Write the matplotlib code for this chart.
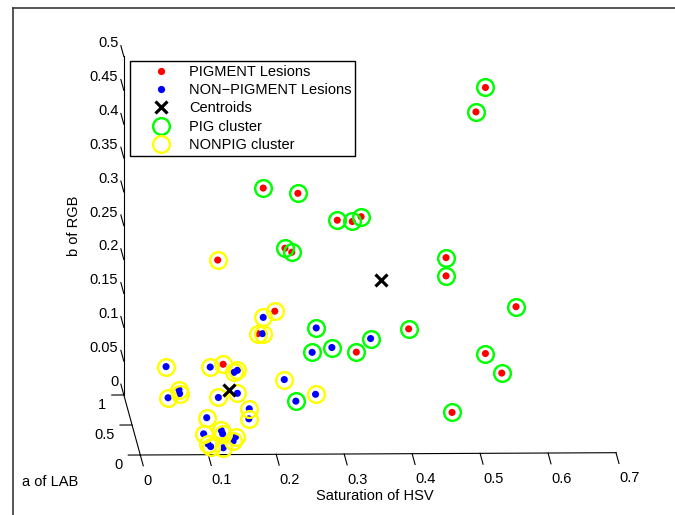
import numpy as np
import matplotlib
matplotlib.use('Agg')
import matplotlib.pyplot as plt
from matplotlib.lines import Line2D
from matplotlib import transforms as mtransforms
from mpl_toolkits.mplot3d import proj3d

plt.rcParams['font.family'] = ['Liberation Sans', 'DejaVu Sans']
FS = 10.5

# ---------------- data (Saturation of HSV, a of LAB, b of RGB) ----------------
pig_sat = [0.193, 0.244, 0.302, 0.324, 0.337, 0.225, 0.235, 0.126, 0.210, 0.185, 0.330,
           0.407, 0.520, 0.506, 0.462, 0.462, 0.565, 0.520, 0.544, 0.466, 0.134]
pig_a = [0.5, 0.5, 0.5, 0.5, 0.5, 0.5, 0.5, 0.5, 0.5, 0.5, 0.5,
         0.5, 0.5, 0.5, 0.5, 0.5, 0.5, 0.5, 0.5, 0.3, 0.5]
pig_b = [0.349, 0.341, 0.301, 0.299, 0.306, 0.260, 0.254, 0.243, 0.167, 0.134, 0.106,
         0.140, 0.496, 0.460, 0.245, 0.218, 0.172, 0.103, 0.074, 0.034, 0.089]
pig_cluster = ['PIG', 'PIG', 'PIG', 'PIG', 'PIG', 'PIG', 'PIG', 'NONPIG', 'NONPIG', 'NONPIG', 'PIG',
               'PIG', 'PIG', 'PIG', 'PIG', 'PIG', 'PIG', 'PIG', 'PIG', 'PIG', 'NONPIG']

non_sat = [0.193, 0.192, 0.271, 0.265, 0.294, 0.351, 0.224, 0.241, 0.270, 0.050, 0.115,
           0.150, 0.155, 0.053, 0.069, 0.070, 0.127, 0.155, 0.170, 0.167, 0.105, 0.098,
           0.124, 0.126, 0.144, 0.139, 0.102, 0.106, 0.124]
non_a = [0.5, 0.5, 0.5, 0.5, 0.5, 0.5, 0.5, 0.5, 0.5, 0.5, 0.5,
         0.5, 0.5, 0.5, 0.5, 0.5, 0.5, 0.5, 0.4, 0.3, 0.3, 0.2,
         0.2, 0.2, 0.15, 0.1, 0.1, 0.1, 0.08]
non_b = [0.158, 0.134, 0.142, 0.106, 0.113, 0.126, 0.066, 0.034, 0.044, 0.086, 0.085,
         0.077, 0.080, 0.040, 0.052, 0.046, 0.040, 0.046, 0.032, 0.026, 0.028, 0.013,
         0.018, 0.013, 0.013, 0.011, 0.007, 0.003, 0.003]
non_cluster = ['NONPIG', 'NONPIG', 'PIG', 'PIG', 'PIG', 'PIG', 'NONPIG', 'PIG', 'NONPIG', 'NONPIG', 'NONPIG',
               'NONPIG', 'NONPIG', 'NONPIG', 'NONPIG', 'NONPIG', 'NONPIG', 'NONPIG', 'NONPIG', 'NONPIG', 'NONPIG', 'NONPIG',
               'NONPIG', 'NONPIG', 'NONPIG', 'NONPIG', 'NONPIG', 'NONPIG', 'NONPIG']

cent_sat = [0.367, 0.142]
cent_a = [0.5, 0.5]
cent_b = [0.212, 0.051]

x_ticks = [0, 0.1, 0.2, 0.3, 0.4, 0.5, 0.6, 0.7]
x_ticklabels = ['0', '0.1', '0.2', '0.3', '0.4', '0.5', '0.6', '0.7']
a_ticks = [0, 0.5, 1]
a_ticklabels = ['0', '0.5', '1']
z_ticks = [0, 0.05, 0.1, 0.15, 0.2, 0.25, 0.3, 0.35, 0.4, 0.45, 0.5]
z_ticklabels = ['0', '0.05', '0.1', '0.15', '0.2', '0.25', '0.3', '0.35', '0.4', '0.45', '0.5']

legend_labels = ['PIGMENT Lesions', 'NON\u2212PIGMENT Lesions', 'Centroids', 'PIG cluster', 'NONPIG cluster']

RED, BLUE, GREEN, YELLOW = (1, 0, 0), (0, 0, 1), (0, 1, 0), (1, 1, 0)

# ---------------- figure ----------------
W, H = 675, 515
fig = plt.figure(figsize=(W / 100, H / 100), dpi=100)

def fpx(x, y):
    return (x / W, 1 - y / H)

ax = fig.add_axes([0.1, 0.1, 0.8, 0.8 * W / H], projection='3d', proj_type='ortho')
ax.computed_zorder = False
ax.set_xlim(0, 0.7)
ax.set_ylim(0, 1)
ax.set_zlim(0, 0.5)
ax.set_box_aspect((476.0, 451.9, 341.5))
ax.view_init(elev=7.64, azim=-92.09)
ax.set_axis_off()
ax.patch.set_visible(False)

# points
ax.scatter(pig_sat, pig_a, pig_b, s=26, c=[RED], edgecolors='none', depthshade=False, zorder=2)
ax.scatter(non_sat, non_a, non_b, s=26, c=[BLUE], edgecolors='none', depthshade=False, zorder=2)

all_sat = np.array(pig_sat + non_sat)
all_a = np.array(pig_a + non_a)
all_b = np.array(pig_b + non_b)
all_cl = np.array(pig_cluster + non_cluster)
for name, col in [('PIG', GREEN), ('NONPIG', YELLOW)]:
    m = all_cl == name
    ax.plot(all_sat[m], all_a[m], all_b[m], ls='none', marker='o', ms=12,
            mfc='none', mec=col, mew=1.75, zorder=3)

ax.plot(cent_sat, cent_a, cent_b, ls='none', marker='x', ms=8, mec='black', mew=2.3, zorder=4)

# axis lines
alw = 0.8
ax.plot([0, 0.7], [0, 0], [0, 0], color='black', lw=alw, zorder=1)
ax.plot([0, 0], [0, 1], [0, 0], color='black', lw=alw, zorder=1)
ax.plot([0, 0], [1, 1], [0, 0.5], color='black', lw=alw, zorder=1)

# tick marks
tk = 0.18
atk = 0.0177
for xt in x_ticks:
    ax.plot([xt, xt], [0, -tk], [0, 0], color='black', lw=alw, zorder=1)
for at in a_ticks:
    ax.plot([0, -atk], [at, at], [0, 0], color='black', lw=alw, zorder=1)
for zt in z_ticks:
    ax.plot([0, 0], [1, 1 + tk], [zt, zt], color='black', lw=alw, zorder=1)

# ---------------- place axes so the cube lands where the reference has it ----------------
fig.canvas.draw()
def to_disp(x, y, z):
    xs, ys, _ = proj3d.proj_transform(np.array([x]), np.array([y]), np.array([z]), ax.get_proj())
    return ax.transData.transform((xs[0], ys[0]))

d0 = to_disp(0, 0, 0)
d1 = to_disp(0.7, 0, 0)
pos = ax.get_position()
L = pos.width * W
c = np.array([pos.x0 * W + L / 2, pos.y0 * H + pos.height * H / 2])
q0 = (d0 - c) / L
q1 = (d1 - c) / L
t0 = np.array([140.3, H - 455.0])
t1 = np.array([616.0, H - 452.7])
Ln = (t1[0] - t0[0]) / (q1[0] - q0[0])
cn = t0 - Ln * q0
ax.set_position([(cn[0] - Ln / 2) / W, (cn[1] - Ln / 2) / H, Ln / W, Ln / H])

# tick labels, anchored at the projected tick ends
def label_at(x, y, z, s, dx, dy, **kw):
    d = to_disp(x, y, z)
    fig.text((d[0] + dx) / W, (d[1] + dy) / H, s, fontsize=FS, **kw)

for xt, lab in zip(x_ticks, x_ticklabels):
    label_at(xt, -tk, 0, lab, 0.5, -8, ha='left', va='top')
for at, lab in zip(a_ticks, a_ticklabels):
    label_at(-atk, at, 0, lab, -5.5, -9.9, ha='right', va='center')
for zt, lab in zip(z_ticks, z_ticklabels):
    label_at(0, 1 + tk, zt, lab, -2.5, 2.3, ha='right', va='center')

# axis labels
fig.text(*fpx(74, 226), 'b of RGB', rotation=90, ha='center', va='center', fontsize=FS)
fig.text(*fpx(22, 482), 'a of LAB', ha='left', va='center', fontsize=FS)
fig.text(*fpx(375, 496.5), 'Saturation of HSV', ha='center', va='center', fontsize=FS)

# legend
handles = [
    Line2D([], [], ls='none', marker='o', ms=5.2, mfc=RED, mec='none'),
    Line2D([], [], ls='none', marker='o', ms=5.2, mfc=BLUE, mec='none'),
    Line2D([], [], ls='none', marker='x', ms=8, mec='black', mew=2.3),
    Line2D([], [], ls='none', marker='o', ms=12, mfc='none', mec=GREEN, mew=1.75),
    Line2D([], [], ls='none', marker='o', ms=12, mfc='none', mec=YELLOW, mew=1.75),
]
leg = fig.legend(handles, legend_labels, loc='upper left', bbox_to_anchor=fpx(130, 61),
                 bbox_transform=fig.transFigure, borderaxespad=0, frameon=True, fancybox=False,
                 shadow=False, framealpha=1, edgecolor='black', borderpad=0.25,
                 handlelength=3.8, handletextpad=0.0, labelspacing=0.3, fontsize=FS)
leg.get_frame().set_linewidth(1.0)

# outer frame (left and top edges of the window box)
fig.add_artist(Line2D([12.5 / W, 12.5 / W], [0, 1 - 7.5 / H], transform=fig.transFigure,
                      color='#3a3a3a', lw=1.2))
fig.add_artist(Line2D([12.5 / W, 1], [1 - 7.5 / H, 1 - 7.5 / H], transform=fig.transFigure,
                      color='#3a3a3a', lw=1.2))

fig.savefig('out.png', dpi=100)
